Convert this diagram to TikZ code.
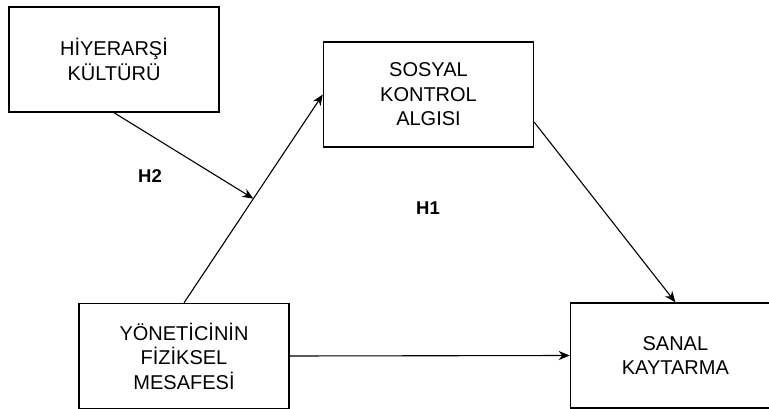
\documentclass[tikz,border=0pt]{standalone}
\usepackage{fontspec}
\setmainfont{Liberation Sans}
\usepackage{tikz}
\usetikzlibrary{arrows.meta, positioning, calc}

\begin{document}
\begin{tikzpicture}[x=1pt, y=-1pt, auto, >={Stealth[length=11pt, width=9pt]}, node distance=280pt]
            \tikzset{varbox/.style={rectangle, draw, minimum width=210pt, minimum height=105pt, inner sep=0pt, line width=1.4pt, align=center, font=\fontsize{20}{24.5}\selectfont}}
            \tikzset{hyplabel/.style={font=\fontsize{18.5}{20}\selectfont\bfseries}}
            \tikzset{link/.style={->, line width=1.1pt}}
            \useasboundingbox (0,0) rectangle (769,409);
            \node[varbox] (hiyerarsi) at (114,59.5) {HİYERARŞİ\\KÜLTÜRÜ};
            \node[varbox] (sosyal) at (428.5,94.5) {SOSYAL\\KONTROL\\ALGISI};
            \node[varbox] (yonetici) at (184,356) {YÖNETİCİNİN\\FİZİKSEL\\MESAFESİ};
            \node[varbox, right=of yonetici, yshift=0.5pt] (sanal) {SANAL\\KAYTARMA};
            \coordinate (mid) at ($(yonetici.north)!0.5!(sosyal.west)$);
            \coordinate (sosyalout) at ($(sosyal.south east)!0.24!(sosyal.north east)$);
            \draw[link] (yonetici.north) -- (sosyal.west);
            \draw[link] (hiyerarsi.south) -- (mid);
            \draw[link] (sosyalout) -- (sanal.north);
            \draw[link] (yonetici.east) -- (sanal.west);
            \node[hyplabel] (h2) at (150,176) {H2};
            \node[hyplabel] (h1) at (428,208) {H1};
        \end{tikzpicture}
\end{document}
